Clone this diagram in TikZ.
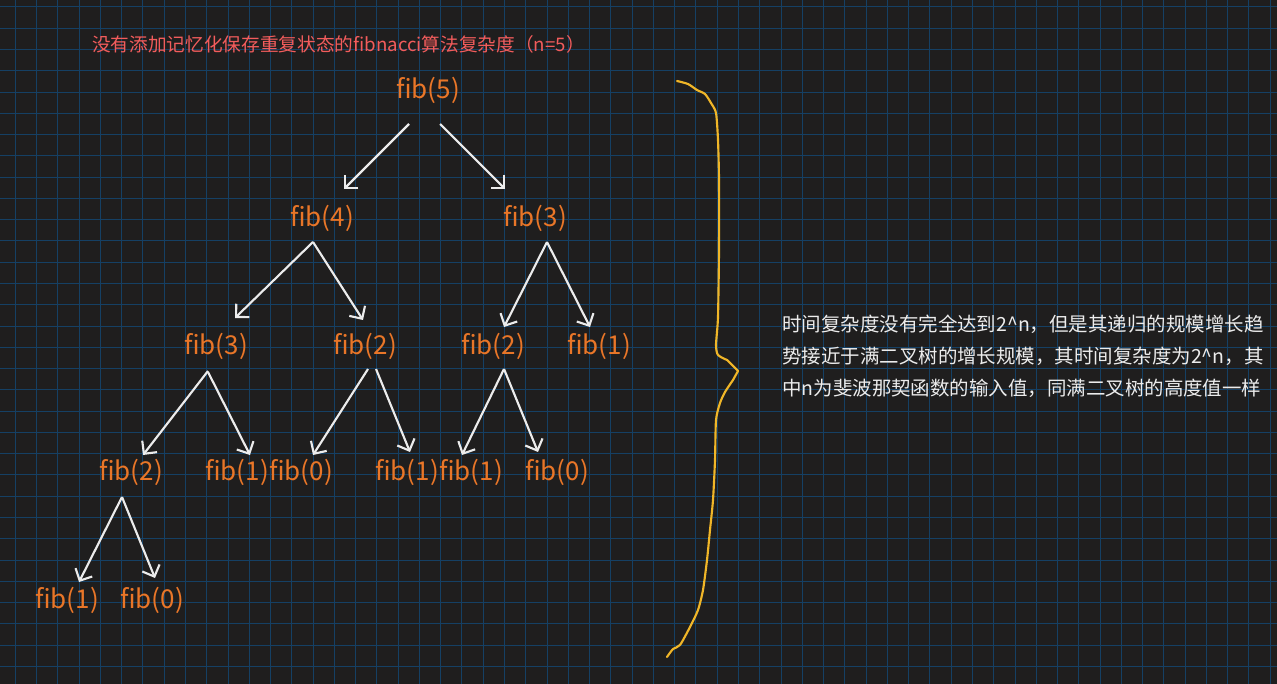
\documentclass[tikz,border=0pt]{standalone}
\usepackage{fontspec}
\setmainfont{Noto Sans CJK SC}
\newfontfamily\cjk{Noto Sans CJK SC}
\usetikzlibrary{arrows.meta,calc}
\definecolor{bgc}{RGB}{31,30,30}
\definecolor{gridc}{RGB}{21,64,100}
\definecolor{titlec}{RGB}{242,92,92}
\definecolor{fibc}{RGB}{233,118,40}
\definecolor{arrc}{RGB}{236,236,236}
\definecolor{bracec}{RGB}{240,182,40}
\definecolor{txtc}{RGB}{236,236,236}
\tikzset{
  fibnode/.style={inner sep=0pt, text=fibc, font=\cjk\fontsize{19.5}{24}\selectfont},
  arr/.style={draw=arrc, line width=1.6pt, -{Straight Barb[length=7pt,width=14pt,line width=1.6pt]}},
  gridline/.style={draw=gridc, line width=0.75pt},
  notetext/.style={inner sep=0pt, anchor=west, text=txtc, font=\cjk\fontsize{14.6}{17}\selectfont},
}
\begin{document}
\begin{tikzpicture}[x=0.75pt,y=-0.75pt]
\fill[bgc] (0,0) rectangle (1277,684);
\useasboundingbox (0,0) rectangle (1277,684);
\foreach \k in {0,...,59} { \draw[gridline] ({15.3+\k*21.27},0) -- ({15.3+\k*21.27},684); }
\foreach \k in {0,...,31} { \draw[gridline] (0,{7+\k*21.27}) -- (1277,{7+\k*21.27}); }

\node[inner sep=0pt, anchor=west, text=titlec, font=\cjk\fontsize{14}{17}\selectfont] (title) at (92,44) {没有添加记忆化保存重复状态的fibnacci算法复杂度（n=5）};

\node[fibnode] (f5) at (428,90) {fib(5)};
\node[fibnode] (f4) at (322,218) {fib(4)};
\node[fibnode] (f3a) at (535,218) {fib(3)};
\node[fibnode] (f3b) at (216,346) {fib(3)};
\node[fibnode] (f2a) at (365,346) {fib(2)};
\node[fibnode] (f2b) at (493,346) {fib(2)};
\node[fibnode] (f1a) at (599,346) {fib(1)};
\node[fibnode] (f2c) at (131,472) {fib(2)};
\node[fibnode] (f1b) at (237,472) {fib(1)};
\node[fibnode] (f0a) at (301,472) {fib(0)};
\node[fibnode] (f1c) at (407,472) {fib(1)};
\node[fibnode] (f1d) at (471,472) {fib(1)};
\node[fibnode] (f0b) at (557,472) {fib(0)};
\node[fibnode] (f1e) at (67,600) {fib(1)};
\node[fibnode] (f0c) at (152,600) {fib(0)};

\draw[arr] ($(f5)+(-19,34)$) -- ($(f4)+(22,-29)$);
\draw[arr] ($(f5)+(12,34)$) -- ($(f3a)+(-30,-29)$);
\draw[arr] ($(f4)+(-9,24)$) -- ($(f3b)+(19,-28)$);
\draw[arr] ($(f4)+(-9,24)$) -- ($(f2a)+(-2,-26)$);
\draw[arr] ($(f3a)+(12,24)$) -- ($(f2b)+(11,-19)$);
\draw[arr] ($(f3a)+(12,24)$) -- ($(f1a)+(-9,-19)$);
\draw[arr] ($(f3b)+(-8,25)$) -- ($(f2c)+(12,-17)$);
\draw[arr] ($(f3b)+(-8,26)$) -- ($(f1b)+(13,-17)$);
\draw[arr] ($(f2a)+(3,23)$) -- ($(f0a)+(12,-17)$);
\draw[arr] ($(f2a)+(11,23)$) -- ($(f1c)+(3,-20)$);
\draw[arr] ($(f2b)+(11,23)$) -- ($(f1d)+(-9,-17)$);
\draw[arr] ($(f2b)+(11,23)$) -- ($(f0b)+(-19,-20)$);
\draw[arr] ($(f2c)+(-9,25)$) -- ($(f1e)+(12,-18)$);
\draw[arr] ($(f2c)+(-9,25)$) -- ($(f0c)+(3,-22)$);

\draw[bracec, line width=1.6pt, line cap=round, line join=round]
  plot[smooth, tension=0.4] coordinates {(667,657) (673,649) (680,645) (690,627) (698,610) (703,590) (707,560) (710,530) (713,500) (715,460) (716,420) (720,403) (725,392) (733,380)}
  -- (738,371) -- 
  plot[smooth, tension=0.4] coordinates {(727,360) (718,355) (716,345) (718,317) (719,250) (719,180) (718,140) (716,113) (711,103) (705,94) (697,90) (688,84) (677,81)};

\node[notetext] (l1) at (782,324) {时间复杂度没有完全达到2\textasciicircum n，但是其递归的规模增长趋};
\node[notetext] (l2) at (782,356) {势接近于满二叉树的增长规模，其时间复杂度为2\textasciicircum n，其};
\node[notetext] (l3) at (782,388) {中n为斐波那契函数的输入值，同满二叉树的高度值一样};
\end{tikzpicture}
\end{document}
